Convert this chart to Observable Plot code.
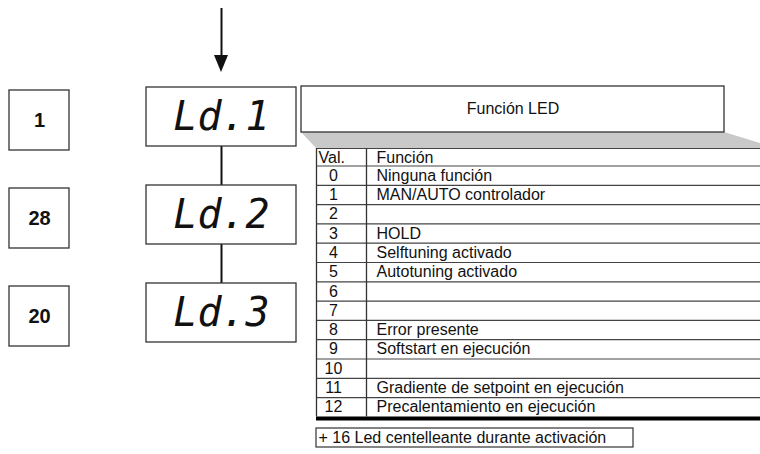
<!DOCTYPE html>
<html><head><meta charset="utf-8">
<script src="https://cdn.jsdelivr.net/npm/d3@7"></script>
<script src="https://cdn.jsdelivr.net/npm/@observablehq/plot@0.6"></script>
<style>html,body{margin:0;padding:0;background:#fff}
svg text[font-style="italic"]{letter-spacing:-2px}</style>
</head><body><div id="chart"></div>
<script>
// ---- content ----
const paramCodes = ["Ld.1", "Ld.2", "Ld.3"];
const paramValues = ["1", "28", "20"];
const tableTitle = "Función LED";
const tableHeaders = ["Val.", "Función"];
const funcValues = ["0", "1", "2", "3", "4", "5", "6", "7", "8", "9", "10", "11", "12"];
const funcNames = [
  "Ninguna función",
  "MAN/AUTO controlador",
  "",
  "HOLD",
  "Selftuning activado",
  "Autotuning activado",
  "",
  "",
  "Error presente",
  "Softstart en ejecución",
  "",
  "Gradiente de setpoint en ejecución",
  "Precalentamiento en ejecución"
];
const footnote = "+ 16 Led centelleante durante activación";

// ---- layout (pixel geometry) ----
const W = 760, H = 454;
const step = 98;
const dispX1 = 146, dispX2 = 296, dispTop = 87, dispH = 59;
const valX1 = 9, valX2 = 69, valOff = 3, valH = 60;
const arrowX = (dispX1 + dispX2) / 2;
const tblL = 316, tblDiv = 366, tblR = W, tblTop = 148, hdrH = 17.5, rowH = 19.3;
const titleBox = {x1: 301, x2: 724, y1: 86, y2: 132};
const font = "'Liberation Sans', Arial, Helvetica, sans-serif";

const disp = paramCodes.map((code, i) => ({
  code, x1: dispX1, x2: dispX2, y1: dispTop + i * step, y2: dispTop + i * step + dispH
}));
const vals = paramValues.map((v, i) => ({
  v, x1: valX1, x2: valX2, y1: dispTop + valOff + i * step, y2: dispTop + valOff + i * step + valH
}));
const connectors = disp.slice(1).map((d, i) => ({x: arrowX, y1: disp[i].y2, y2: d.y1}));

const hdrBottom = tblTop + hdrH;
const rows = funcValues.map((v, i) => ({
  v, name: funcNames[i],
  y1: hdrBottom + i * rowH, y2: hdrBottom + (i + 1) * rowH,
  cy: hdrBottom + (i + 0.5) * rowH
}));
const tblBottom = rows[rows.length - 1].y2;
const hLines = [tblTop, ...rows.map(r => r.y1)];

const shadow = [
  {x: titleBox.x1, y1: titleBox.y2, y2: titleBox.y2},
  {x: tblL, y1: titleBox.y2, y2: tblTop},
  {x: titleBox.x2, y1: titleBox.y2, y2: tblTop},
  {x: W, y1: titleBox.y2 + 11, y2: tblTop}
];
const head = [
  {x: arrowX - 7, y1: 55, y2: 55},
  {x: arrowX, y1: 55, y2: 72},
  {x: arrowX + 7, y1: 55, y2: 55}
];
const foot = {x1: tblL, x2: 633, y1: 428, y2: 447};

const txt = {fontFamily: font, fill: "#111", lineAnchor: "middle", fontSize: 16};

const chart = Plot.plot({
  width: W, height: H, margin: 0,
  style: {background: "#fff"},
  x: {domain: [0, W], range: [0, W], axis: null},
  y: {domain: [0, H], range: [0, H], axis: null},
  marks: [
    // entry arrow
    Plot.ruleX([arrowX], {x: d => d, y1: 8, y2: 58, stroke: "#111", strokeWidth: 2}),
    Plot.areaY(head, {x: "x", y1: "y1", y2: "y2", fill: "#111"}),
    // connectors
    Plot.ruleX(connectors, {x: "x", y1: "y1", y2: "y2", stroke: "#111", strokeWidth: 2}),
    // value boxes
    Plot.rect(vals, {x1: "x1", x2: "x2", y1: "y1", y2: "y2", fill: "#fff", stroke: "#333", strokeWidth: 1.3}),
    Plot.text(vals, {...txt, x: d => (d.x1 + d.x2) / 2, y: d => (d.y1 + d.y2) / 2, text: "v",
      fontSize: 20, fontWeight: "bold"}),
    // display boxes
    Plot.rect(disp, {x1: "x1", x2: "x2", y1: "y1", y2: "y2", fill: "#fff", stroke: "#333", strokeWidth: 1.3}),
    Plot.text(disp, {...txt, x: d => (d.x1 + d.x2) / 2, y: d => (d.y1 + d.y2) / 2, text: "code",
      fontSize: 40, fontStyle: "italic", fontFamily: "'DejaVu Sans Mono', monospace"}),
    // shadow trapezoid
    Plot.areaY(shadow, {x: "x", y1: "y1", y2: "y2", fill: "#c9c9c9"}),
    // title box
    Plot.rect([titleBox], {x1: "x1", x2: "x2", y1: "y1", y2: "y2", fill: "#fff", stroke: "#333", strokeWidth: 1.3}),
    Plot.text([tableTitle], {...txt, x: (titleBox.x1 + titleBox.x2) / 2, y: (titleBox.y1 + titleBox.y2) / 2 - 1,
      text: d => d}),
    // table grid
    Plot.ruleY(hLines, {y: d => d, x1: () => tblL, x2: () => tblR, stroke: "#444", strokeWidth: 1.2}),
    Plot.ruleY([tblBottom], {y: d => d + 1.5, x1: () => tblL, x2: () => tblR, stroke: "#000", strokeWidth: 4}),
    Plot.ruleX([tblL, tblDiv], {x: d => d, y1: () => tblTop, y2: () => tblBottom, stroke: "#333", strokeWidth: 1.3}),
    // header
    Plot.text([tableHeaders[0]], {...txt, x: tblL + 2, y: tblTop + hdrH / 2 + 0.5, text: d => d, textAnchor: "start"}),
    Plot.text([tableHeaders[1]], {...txt, x: tblDiv + 10, y: tblTop + hdrH / 2 + 0.5, text: d => d, textAnchor: "start"}),
    // rows
    Plot.text(rows, {...txt, x: (tblL + tblDiv) / 2 - 8, y: "cy", text: "v", textAnchor: "middle"}),
    Plot.text(rows, {...txt, x: tblDiv + 10, y: "cy", text: "name", textAnchor: "start"}),
    // footnote
    Plot.rect([foot], {x1: "x1", x2: "x2", y1: "y1", y2: "y2", fill: "#fff", stroke: "#333", strokeWidth: 1.2}),
    Plot.text([footnote], {...txt, x: foot.x1 + 2, y: (foot.y1 + foot.y2) / 2, text: d => d, textAnchor: "start"})
  ]
});
document.getElementById("chart").appendChild(chart);
</script>
</body></html>
